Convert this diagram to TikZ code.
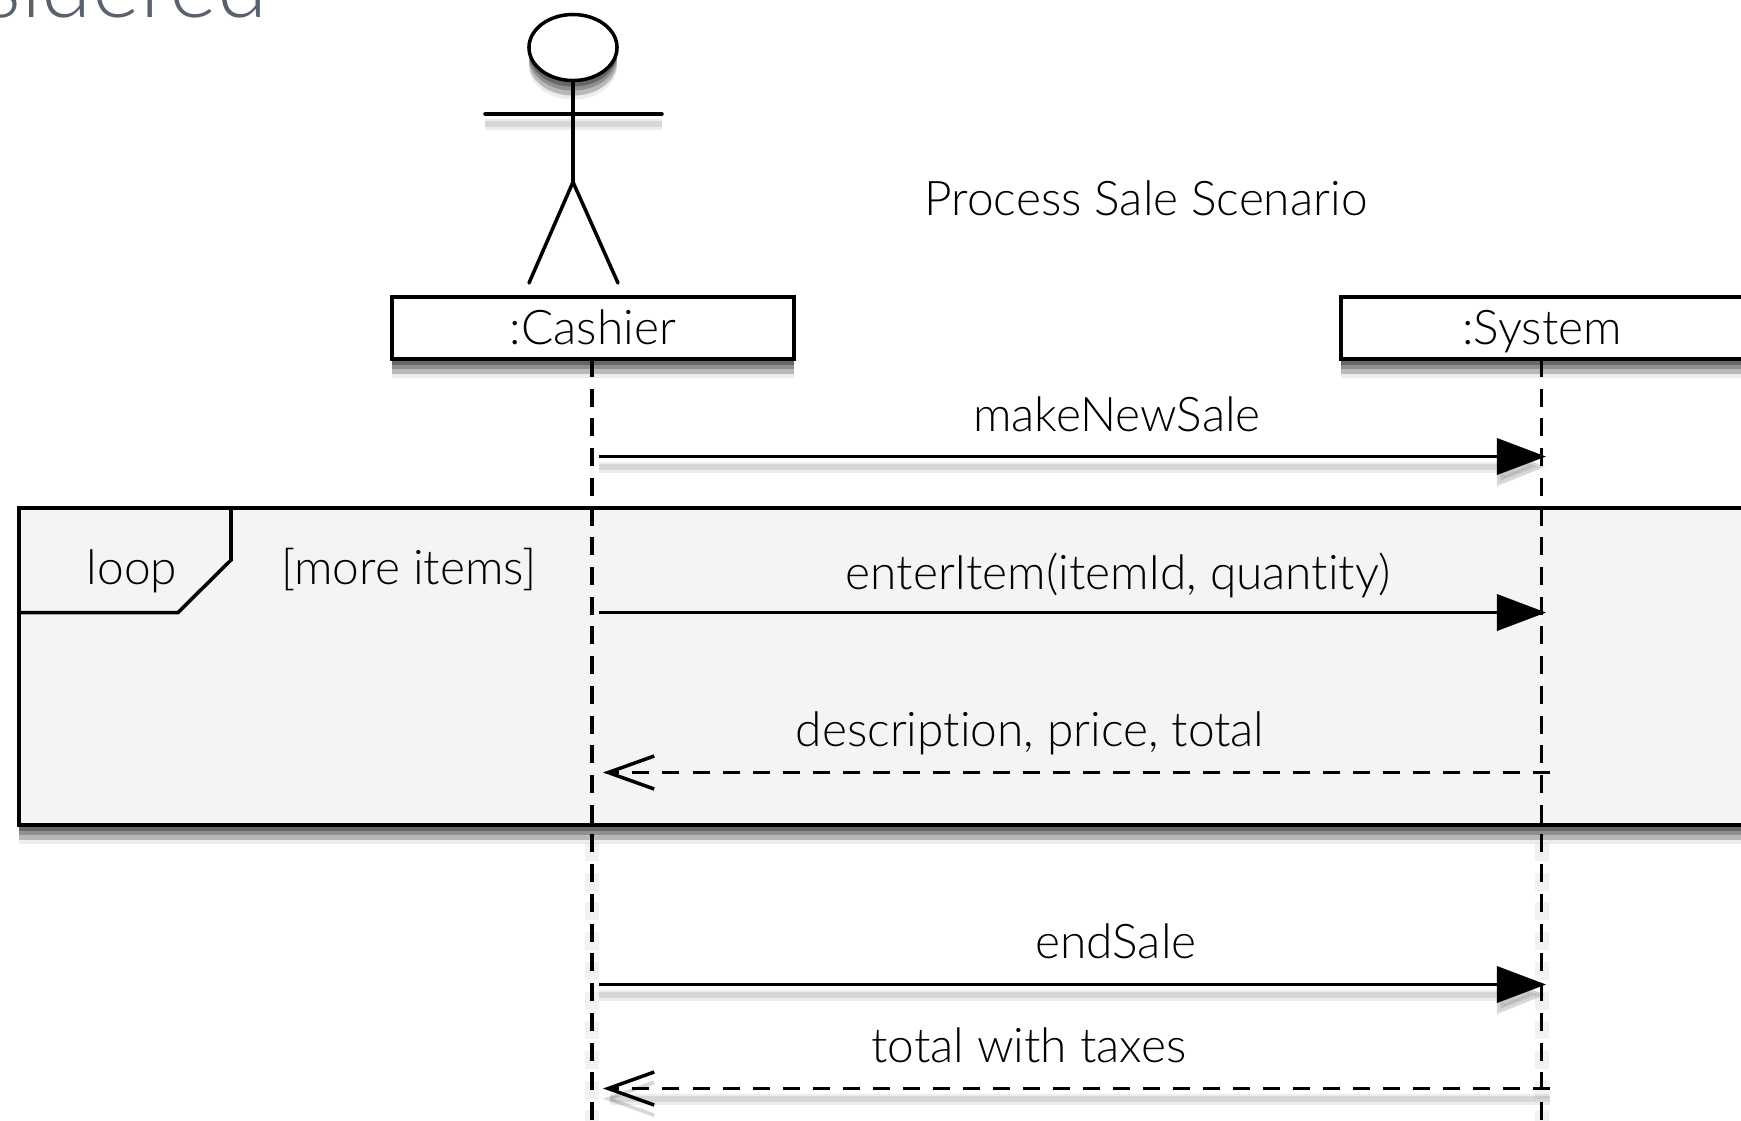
\documentclass[tikz,border=0pt]{standalone}
\usepackage{fontspec}
\setmainfont[Ligatures=NoCommon]{Lato Light}
\usetikzlibrary{arrows.meta,
                positioning, % For easy node-relative placements
                shapes.geometric,
               }
\definecolor{slidegray}{HTML}{59616C}
\definecolor{framefill}{HTML}{F4F4F4}
\tikzstyle{softshadow} = [preaction={draw=black, opacity=0.07, line width=1.1mm, transform canvas={yshift=-1.05mm}},
                          preaction={draw=black, opacity=0.09, line width=0.6mm, transform canvas={yshift=-1mm}}]
\tikzstyle{boxshadow} = [preaction={fill=black, opacity=0.07, transform canvas={yshift=-1.9mm}},
                         preaction={fill=black, opacity=0.22, transform canvas={yshift=-1.5mm}},
                         preaction={fill=black, opacity=0.22, transform canvas={yshift=-1mm}},
                         preaction={fill=black, opacity=0.28, transform canvas={yshift=-0.6mm}}]
\tikzstyle{msgtext} = [inner sep=0pt, anchor=base, font=\fontsize{13.6}{16}\selectfont]
\tikzstyle{instance} = [rectangle, draw=black, line width=1pt, fill=white, minimum width=4.02cm,
                        minimum height=0.62cm, inner sep=0pt, text height=0.38cm, text depth=0.05cm,
                        font=\fontsize{13.6}{16}\selectfont, boxshadow]
\tikzstyle{lifeline} = [black, line width=1pt, dash pattern=on 0.18cm off 0.117cm]
\tikzstyle{lifeshadow} = [black, opacity=0.05, line width=1.4mm, dash pattern=on 0.18cm off 0.117cm,
                          transform canvas={yshift=-0.9mm}]
\tikzstyle{call} = [black, line width=1pt, -{Triangle[length=0.49cm, width=0.36cm]}]
\tikzstyle{reply} = [black, line width=1pt, dash pattern=on 0.17cm off 0.13cm,
                     -{Straight Barb[length=0.46cm, width=0.33cm, line width=1pt]}]
\tikzstyle{actorline} = [black, line width=1pt, line cap=round]

\begin{document}
\begin{tikzpicture}[x=0.01cm, y=-0.01cm]
  \clip (0, 0) rectangle (1741, 1120);
  \fill [white] (0, 0) rectangle (1741, 1120);
  \node (cut) [msgtext, anchor=base west, text=slidegray, font=\fontsize{26}{30}\selectfont] at (-18, 17) {sidered};

  % actor
  \node (head) [ellipse, draw=black, line width=1pt, fill=white, minimum width=0.88cm, minimum height=0.66cm, inner sep=0pt, boxshadow] at (573, 47.5) {};
  \coordinate (hip) at (573, 182);
  \coordinate (armL) at (485, 114);
  \coordinate (armR) at (662, 114);
  \coordinate (footL) at (529, 283);
  \coordinate (footR) at (618, 283);
  \draw [actorline, softshadow] (armL) -- (armR);
  \draw [actorline] (head.south) -- (hip);
  \draw [actorline] (footL) -- (hip) -- (footR);

  % title and instances
  \node (title) [msgtext] at (1146, 215) {Process Sale Scenario};
  \node (cashier) [instance] at (593, 328) {:Cashier};
  \node (system) [instance] at (1542, 328) {:System};

  % loop frame
  \coordinate (frameTL) at (19, 508);
  \coordinate (frameBR) at (1760, 825);
  \draw [black, line width=1pt, fill=framefill, boxshadow] (frameTL) rectangle (frameBR);
  \coordinate (tabA) at (231, 508);
  \coordinate (tabB) at (231, 560);
  \coordinate (tabC) at (178, 612.5);
  \coordinate (tabD) at (19, 612.5);
  \draw [black, line width=1pt] (tabA) -- (tabB) -- (tabC) -- (tabD);
  \node (loop) [msgtext] at (132, 584) {loop};
  \node (guard) [msgtext] at (409, 584) {[more items]};

  % lifelines
  \coordinate (cashierTop) at (592, 359);
  \coordinate (systemTop) at (1541.5, 359);
  \coordinate (cashierEnd) at (592, 1120);
  \coordinate (systemEnd) at (1541.5, 1120);
  \coordinate (cashierLow) at (592, 834);
  \coordinate (systemLow) at (1541.5, 834);
  \draw [lifeshadow] (cashierLow) -- (cashierEnd);
  \draw [lifeshadow] (systemLow) -- (systemEnd);
  \draw [lifeline] (cashierTop) -- (cashierEnd);
  \draw [lifeline] (systemTop) -- (systemEnd);

  % messages
  \coordinate (c1) at (599, 456.5);  \coordinate (s1) at (1546, 456.5);
  \coordinate (c2) at (599, 612.5);  \coordinate (s2) at (1546, 612.5);
  \coordinate (c3) at (603, 772.5);  \coordinate (s3) at (1550, 772.5);
  \coordinate (c4) at (599, 984.5);  \coordinate (s4) at (1546, 984.5);
  \coordinate (c5) at (603, 1088.5); \coordinate (s5) at (1550, 1088.5);
  \draw [call, softshadow] (c1) -- (s1);
  \draw [call] (c2) -- (s2);
  \draw [reply] (s3) -- (c3);
  \draw [call, softshadow] (c4) -- (s4);
  \draw [reply, softshadow] (s5) -- (c5);

  \node (m1) [msgtext] at (1117, 431) {makeNewSale};
  \node (m2) [msgtext] at (1118, 589) {enterItem(itemId, quantity)};
  \node (m3) [msgtext] at (1030, 746) {description, price, total};
  \node (m4) [msgtext] at (1116, 958) {endSale};
  \node (m5) [msgtext] at (1029, 1062) {total with taxes};
\end{tikzpicture}
\end{document}
